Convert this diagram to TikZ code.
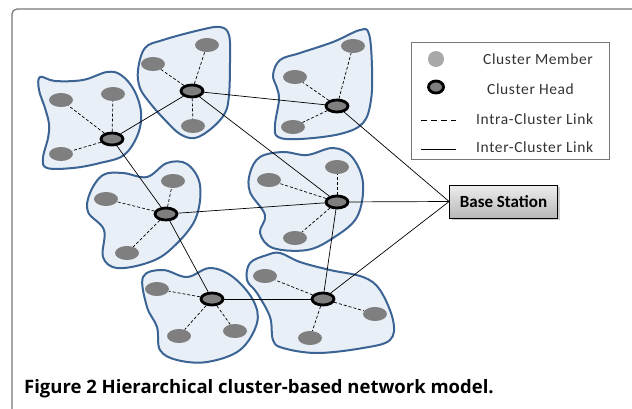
\documentclass[tikz,border=0pt]{standalone}
\usepackage{fontspec}
\setmainfont{Carlito}
\newfontfamily\capfont{Open Sans}
\usetikzlibrary{shapes.geometric,shadows}
\definecolor{blobfill}{HTML}{E9EFF7}
\definecolor{blobdraw}{HTML}{3B6494}
\definecolor{memfill}{HTML}{7F7F7F}
\definecolor{legmem}{HTML}{A8A8A8}
\definecolor{framecol}{HTML}{777777}
\tikzset{
  blob/.style={draw=blobdraw, fill=blobfill, line width=2pt},
  member/.style={ellipse, fill=memfill, minimum width=24pt, minimum height=14pt, inner sep=0pt},
  head/.style={ellipse, draw=black, fill=memfill, line width=2.8pt, minimum width=22pt, minimum height=12pt, inner sep=0pt},
  intra/.style={dash pattern=on 3pt off 2pt, line width=0.7pt},
  inter/.style={line width=0.7pt},
  legtext/.style={anchor=west, font=\fontsize{15.5}{17}\selectfont\addfontfeatures{LetterSpace=4}, text=black!80, inner sep=0pt},
}
\begin{document}
\begin{tikzpicture}[x=1pt,y=-1pt]
\useasboundingbox (0,0) rectangle (632,408);
% frame
\draw[framecol, line width=1.2pt, rounded corners=5pt] (12,412) -- (12,9) -- (636,9);
% blobs
\draw[blob] plot[smooth cycle, tension=0.6] coordinates {(40,77) (55,81) (83,80) (107,72) (121,75) (134,90) (141,112) (138,134) (124,155) (100,163) (73,168) (47,168) (43,158) (48,138) (49,124) (45,108) (39,90)};
\draw[blob] plot[smooth cycle, tension=0.6] coordinates {(138,70) (145,48) (163,40) (200,30) (220,27) (229,35) (230,62) (229,95) (225,113) (212,128) (195,138) (180,134) (165,120) (150,103) (140,88)};
\draw[blob] plot[smooth cycle, tension=0.6] coordinates {(273,75) (280,60) (300,53) (333,42) (360,30) (369,34) (372,67) (371,100) (363,123) (340,134) (300,139) (278,137) (275,125) (279,100) (277,88)};
\draw[blob] plot[smooth cycle, tension=0.6] coordinates {(103,175) (123,173) (147,177) (167,163) (187,164) (200,185) (195,220) (170,250) (147,263) (117,268) (103,257) (104,230) (88,212) (90,193)};
\draw[blob] plot[smooth cycle, tension=0.6] coordinates {(260,157) (283,152) (307,155) (333,148) (352,157) (363,183) (357,217) (333,238) (307,250) (273,248) (260,233) (265,215) (250,192) (250,173)};
\draw[blob] plot[smooth cycle, tension=0.6] coordinates {(143,277) (163,270) (187,277) (210,268) (233,277) (253,300) (257,323) (240,350) (207,362) (177,360) (160,350) (157,327) (147,307)};
\draw[blob] plot[smooth cycle, tension=0.6] coordinates {(247,280) (250,263) (267,255) (280,253) (300,262) (330,270) (363,277) (380,290) (393,320) (390,340) (363,348) (317,353) (283,348) (273,340) (270,317) (257,293)};
% cluster heads
\node[head] (h1) at (112,139) {};
\node[head] (h2) at (192,91) {};
\node[head] (h3) at (337,106) {};
\node[head] (h4) at (166,214) {};
\node[head] (h5) at (337,202) {};
\node[head] (h6) at (212,299) {};
\node[head] (h7) at (323,299) {};
% members
\node[member] (m11) at (61,100) {};
\node[member] (m12) at (113,94) {};
\node[member] (m13) at (61,154) {};
\node[member] (m21) at (153,64) {};
\node[member] (m22) at (207,45) {};
\node[member] (m23) at (193,126) {};
\node[member] (m31) at (295,77) {};
\node[member] (m32) at (293,127) {};
\node[member] (m33) at (353,46) {};
\node[member] (m41) at (106,199) {};
\node[member] (m42) at (173,181) {};
\node[member] (m43) at (127,253) {};
\node[member] (m51) at (269,180) {};
\node[member] (m52) at (337,167) {};
\node[member] (m53) at (295,238) {};
\node[member] (m61) at (157,289) {};
\node[member] (m62) at (179,336) {};
\node[member] (m63) at (235,331) {};
\node[member] (m71) at (265,276) {};
\node[member] (m72) at (310,338) {};
\node[member] (m73) at (375,314) {};
% intra links
\foreach \h/\m in {h1/m11,h1/m12,h1/m13,h2/m21,h2/m22,h2/m23,h3/m31,h3/m32,h3/m33,h4/m41,h4/m42,h4/m43,h5/m51,h5/m52,h5/m53,h6/m61,h6/m62,h6/m63,h7/m71,h7/m72,h7/m73}
  \draw[intra] (\h) -- (\m);
% base station
\node[draw=black, line width=0.8pt, top color=white!93!black, bottom color=white!72!black, drop shadow={shadow xshift=2pt, shadow yshift=-2pt, opacity=0.4}, minimum width=108pt, minimum height=33pt, font=\bfseries\fontsize{17}{19}\selectfont] (bs) at (503.5,201.5) {Base Station};
% inter links
\draw[inter] (h1) -- (h2);
\draw[inter] (h2) -- (h3);
\draw[inter] (h2) -- (h5);
\draw[inter] (h1) -- (h4);
\draw[inter] (h4) -- (h6);
\draw[inter] (h4) -- (h5);
\draw[inter] (h5) -- (h7);
\draw[inter] (h6) -- (h7);
\draw[inter] (h3) -- (bs.west);
\draw[inter] (h5) -- (bs.west);
\draw[inter] (h7) -- (bs.west);
% legend
\node[draw=framecol, line width=0.9pt, minimum width=198pt, minimum height=117pt, inner sep=0pt] (legend) at (510,100.5) {};
\node[circle, fill=legmem, minimum size=16pt, inner sep=0pt] (lm) at (436,59) {};
\node[ellipse, draw=black, fill=memfill, line width=2.8pt, minimum width=15pt, minimum height=12pt, inner sep=0pt] (lh) at (436,87) {};
\coordinate (la) at (421,120);
\coordinate (lb) at (456,120);
\coordinate (lc) at (421,149);
\coordinate (ld) at (456,149);
\draw[intra, dash pattern=on 6pt off 4pt] (la) -- (lb);
\draw[inter] (lc) -- (ld);
\node[legtext] (t1) at (483,59) {Cluster Member};
\node[legtext] (t2) at (487,89) {Cluster Head};
\node[legtext] (t3) at (476,119) {Intra-Cluster Link};
\node[legtext] (t4) at (476,147) {Inter-Cluster Link};
% caption
\node[anchor=west, inner sep=0pt, font=\capfont\bfseries\fontsize{18.5}{22}\selectfont] (cap) at (24,389) {Figure 2 Hierarchical cluster-based network model.};
\end{tikzpicture}
\end{document}
